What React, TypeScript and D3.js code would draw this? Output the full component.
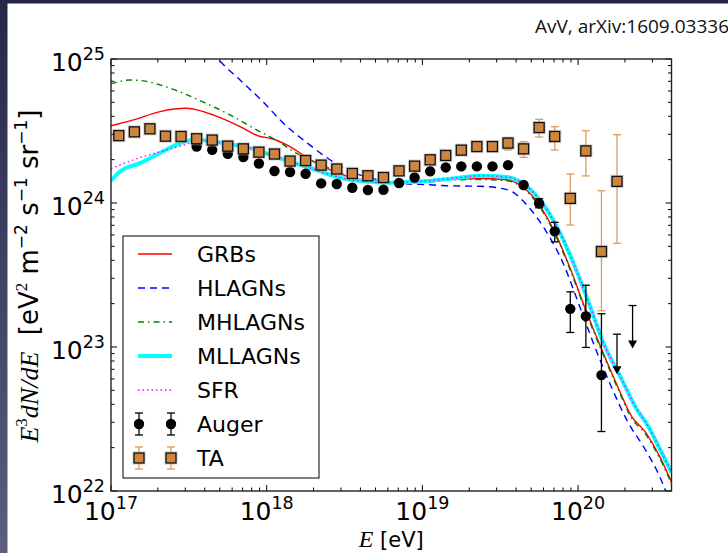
import React from "react";
import * as d3 from "d3";

// ---------- data (log10 E [eV], log10 E^3 dN/dE) ----------
const xMajorTicks = [17, 18, 19, 20];
const yMajorTicks = [22, 23, 24, 25];
const legendLabels = ["GRBs", "HLAGNs", "MHLAGNs", "MLLAGNs", "SFR", "Auger", "TA"];

const GRBs: [number, number][] = [
  [17.0, 24.536], [17.144, 24.577], [17.315, 24.635], [17.482, 24.658], [17.551, 24.647],
  [17.656, 24.612], [17.829, 24.531], [17.957, 24.462], [18.022, 24.45], [18.15, 24.392],
  [18.279, 24.3], [18.407, 24.231], [18.535, 24.18], [18.664, 24.155], [18.792, 24.146],
  [18.921, 24.148], [19.049, 24.152], [19.177, 24.166], [19.37, 24.17], [19.542, 24.161],
  [19.648, 24.109], [19.756, 23.979], [19.852, 23.794], [19.948, 23.55], [20.056, 23.238],
  [20.152, 22.983], [20.248, 22.741], [20.345, 22.516], [20.43, 22.412], [20.526, 22.235],
  [20.6, 22.062],
];

const HLAGNs: [number, number][] = [
  [17.65, 25.05], [17.688, 25.0], [17.829, 24.854], [17.977, 24.702], [18.118, 24.543],
  [18.259, 24.418], [18.388, 24.314], [18.516, 24.231], [18.645, 24.18], [18.773, 24.15],
  [18.901, 24.134], [19.03, 24.127], [19.158, 24.12], [19.37, 24.116], [19.499, 24.103],
  [19.582, 24.075], [19.679, 23.976], [19.788, 23.815], [19.903, 23.584], [20.013, 23.274],
  [20.109, 22.997], [20.212, 22.727], [20.321, 22.477], [20.43, 22.29], [20.526, 22.096],
  [20.558, 22.013], [20.59, 21.94],
];

const MHLAGNs: [number, number][] = [
  [17.0, 24.827], [17.122, 24.854], [17.208, 24.848], [17.315, 24.82], [17.465, 24.762],
  [17.572, 24.711], [17.679, 24.658], [17.786, 24.6], [17.914, 24.52], [18.086, 24.42],
  [18.171, 24.358], [18.279, 24.3], [18.426, 24.231], [18.535, 24.184], [18.664, 24.15],
  [18.792, 24.14], [18.921, 24.142], [19.049, 24.146], [19.177, 24.16], [19.37, 24.163],
  [19.542, 24.155], [19.648, 24.1], [19.756, 23.968], [19.852, 23.782], [19.948, 23.538],
  [20.056, 23.226], [20.152, 22.971], [20.248, 22.729], [20.345, 22.504], [20.43, 22.4],
  [20.526, 22.223], [20.6, 22.05],
];

const MLLAGNs: [number, number][] = [
  [17.0, 24.155], [17.058, 24.219], [17.187, 24.277], [17.315, 24.347], [17.444, 24.416],
  [17.551, 24.439], [17.656, 24.427], [17.784, 24.404], [17.893, 24.381], [18.022, 24.335],
  [18.15, 24.288], [18.279, 24.243], [18.407, 24.196], [18.535, 24.161], [18.664, 24.148],
  [18.792, 24.141], [18.921, 24.146], [19.049, 24.155], [19.178, 24.168], [19.37, 24.189],
  [19.542, 24.18], [19.648, 24.134], [19.756, 24.019], [19.863, 23.838], [19.97, 23.584],
  [20.077, 23.283], [20.162, 23.03], [20.27, 22.798], [20.377, 22.568], [20.449, 22.452],
  [20.526, 22.29], [20.6, 22.129],
];

const SFR: [number, number][] = [
  [17.0, 24.238], [17.144, 24.3], [17.358, 24.369], [17.487, 24.409], [17.551, 24.435],
  [17.656, 24.427], [17.784, 24.404], [17.893, 24.381], [18.022, 24.335], [18.15, 24.288],
  [18.279, 24.243], [18.407, 24.196], [18.535, 24.161], [18.664, 24.148], [18.792, 24.141],
  [18.921, 24.146], [19.049, 24.155], [19.178, 24.168], [19.37, 24.189], [19.542, 24.18],
  [19.648, 24.134], [19.756, 24.019], [19.863, 23.838], [19.97, 23.584], [20.077, 23.283],
  [20.162, 23.03], [20.27, 22.798], [20.377, 22.568], [20.449, 22.452], [20.526, 22.29],
  [20.6, 22.129],
];

const augerLogE = [
  17.55, 17.65, 17.75, 17.85, 17.95, 18.05, 18.15, 18.25, 18.35, 18.45, 18.55, 18.65, 18.75,
  18.85, 18.95, 19.05, 19.15, 19.25, 19.35, 19.45, 19.55, 19.65, 19.75, 19.85, 19.95, 20.05, 20.15,
];
const augerLogF = [
  24.392, 24.369, 24.342, 24.319, 24.274, 24.222, 24.215, 24.203, 24.136, 24.132, 24.106, 24.09, 24.092,
  24.139, 24.177, 24.22, 24.247, 24.254, 24.254, 24.254, 24.263, 24.125, 23.997, 23.803, 23.265, 23.214, 22.805,
];
const augerErrE = [19.65, 19.75, 19.85, 19.95, 20.05, 20.15];
const augerErrLo = [24.11, 23.967, 23.73, 23.101, 22.997, 22.413];
const augerErrHi = [24.14, 24.03, 23.866, 23.383, 23.429, 23.231];
const augerLimitE = [20.25, 20.35];
const augerLimitTop = [23.089, 23.288];
const augerLimitArrow = [22.81, 22.99];

const taLogE = [
  17.05, 17.15, 17.25, 17.35, 17.45, 17.55, 17.65, 17.75, 17.85, 17.95, 18.05, 18.15, 18.25,
  18.35, 18.45, 18.55, 18.65, 18.75, 18.85, 18.95, 19.05, 19.15, 19.25, 19.35, 19.45, 19.55,
  19.65, 19.75, 19.85, 19.95, 20.05, 20.15, 20.25,
];
const taLogF = [
  24.468, 24.494, 24.515, 24.464, 24.462, 24.446, 24.437, 24.395, 24.376, 24.353, 24.34, 24.291, 24.295,
  24.263, 24.236, 24.205, 24.189, 24.177, 24.223, 24.256, 24.3, 24.33, 24.367, 24.392, 24.392, 24.416,
  24.376, 24.524, 24.462, 24.032, 24.362, 23.663, 24.15,
];
const taErrE = [19.45, 19.55, 19.65, 19.75, 19.85, 19.95, 20.05, 20.15, 20.25];
const taErrLo = [24.372, 24.368, 24.317, 24.458, 24.368, 23.847, 24.188, 23.252, 23.72];
const taErrHi = [24.412, 24.453, 24.426, 24.581, 24.53, 24.201, 24.502, 24.085, 24.474];

// ---------- layout ----------
const W = 728;
const H = 553;
const L = 111, R = 671.5, T = 59, B = 491;
const SANS = "DejaVu Sans";
const SERIF = "Liberation Serif";
const TA_COLOR = "#cd853f";
const TA_ERR = "#dc9c60";

const x = d3.scaleLog().domain([1e17, Math.pow(10, 20.6)]).range([L, R]);
const y = d3.scaleLog().domain([1e22, 1e25]).range([B, T]);
const px = (lx: number) => x(Math.pow(10, lx));
const py = (ly: number) => y(Math.pow(10, ly));

const line = d3
  .line<[number, number]>()
  .x((d) => px(d[0]))
  .y((d) => py(d[1]))
  .curve(d3.curveMonotoneX);

function minorTicks(lo: number, hi: number, max: number) {
  const out: number[] = [];
  for (let e = lo; e < hi; e++) {
    for (let k = 2; k <= 9; k++) {
      const v = Math.log10(k) + e;
      if (v <= max + 1e-9) out.push(v);
    }
  }
  return out;
}

const xMinor = minorTicks(17, 21, 20.6);
const yMinor = minorTicks(22, 25, 25);

function AugerMarker({ cx, cy }: { cx: number; cy: number }) {
  return <circle cx={cx} cy={cy} r={5.2} fill="#000" />;
}

function TAMarker({ cx, cy }: { cx: number; cy: number }) {
  const s = 10;
  return (
    <g>
      <rect x={cx - s / 2 - 0.8} y={cy - s / 2 - 0.8} width={s + 1.6} height={s + 1.6} fill="none" stroke="#aaa" strokeOpacity={0.5} strokeWidth={1.6} />
      <rect x={cx - s / 2} y={cy - s / 2} width={s} height={s} fill={TA_COLOR} stroke="#111" strokeWidth={1.3} />
    </g>
  );
}

function ErrBar({ xx, y1, y2, color, w = 1.3 }: { xx: number; y1: number; y2: number; color: string; w?: number }) {
  const c = 4;
  return (
    <g stroke={color} strokeWidth={w}>
      <line x1={xx} x2={xx} y1={y1} y2={y2} />
      <line x1={xx - c} x2={xx + c} y1={y1} y2={y1} />
      <line x1={xx - c} x2={xx + c} y1={y2} y2={y2} />
    </g>
  );
}

function Pow({ x0, y0, exp, anchor, size }: { x0: number; y0: number; exp: number; anchor: "middle" | "end"; size: number }) {
  return (
    <text x={x0} y={y0} textAnchor={anchor} fontFamily={SANS} fontSize={size} fill="#000">
      <tspan>10</tspan>
      <tspan fontSize={size * 0.7} dy={-size * 0.45}>{String(exp)}</tspan>
    </text>
  );
}

export default function App() {
  const legendY = [254, 288, 322, 356, 390, 424, 458];
  const lx1 = 138, lx2 = 172, ltx = 197;
  return (
    <svg width={W} height={H} style={{ position: "absolute", left: 0, top: 0 }} xmlns="http://www.w3.org/2000/svg">
      <defs>
        <linearGradient id="side" x1="0" y1="0" x2="0" y2="1">
          <stop offset="0" stopColor="#26264a" />
          <stop offset="1" stopColor="#5b5e80" />
        </linearGradient>
        <clipPath id="plot">
          <rect x={L} y={T} width={R - L} height={B - T} />
        </clipPath>
      </defs>
      <rect x={0} y={0} width={W} height={H} fill="#fff" />
      <rect x={0} y={0} width={W} height={3.5} fill="#26264a" />
      <rect x={0} y={0} width={7.5} height={H} fill="url(#side)" />

      <text x={535} y={33} fontFamily="Open Sans" fontSize={19} fill="#111">AvV, arXiv:1609.03336</text>

      {/* curves */}
      <g clipPath="url(#plot)" fill="none">
        <path d={line(GRBs) || ""} stroke="#ff0000" strokeWidth={1.4} />
        <path d={line(HLAGNs) || ""} stroke="#0000ff" strokeWidth={1.4} strokeDasharray="7,5" />
        <path d={line(MHLAGNs) || ""} stroke="#008000" strokeWidth={1.4} strokeDasharray="6,4,1.5,4" />
        <path d={line(MLLAGNs) || ""} stroke="#00ffff" strokeWidth={4} />
        <path d={line(SFR) || ""} stroke="#ff00ff" strokeWidth={1.4} strokeDasharray="1.5,3" />
      </g>

      {/* Auger */}
      <g>
        {augerErrE.map((e, i) => (
          <ErrBar key={"ae" + i} xx={px(e)} y1={py(augerErrHi[i])} y2={py(augerErrLo[i])} color="#000" />
        ))}
        {augerLogE.map((e, i) => (
          <AugerMarker key={"a" + i} cx={px(e)} cy={py(augerLogF[i])} />
        ))}
        {augerLimitE.map((e, i) => {
          const xx = px(e);
          const y1 = py(augerLimitTop[i]);
          const y2 = py(augerLimitArrow[i]);
          return (
            <g key={"ul" + i}>
              <line x1={xx} x2={xx} y1={y1} y2={y2 - 6} stroke="#000" strokeWidth={1.3} />
              <line x1={xx - 4} x2={xx + 4} y1={y1} y2={y1} stroke="#000" strokeWidth={1.3} />
              <path d={`M${xx - 4.5},${y2 - 8}L${xx + 4.5},${y2 - 8}L${xx},${y2}Z`} fill="#000" />
            </g>
          );
        })}
      </g>

      {/* TA */}
      <g>
        {taErrE.map((e, i) => (
          <ErrBar key={"te" + i} xx={px(e)} y1={py(taErrHi[i])} y2={py(taErrLo[i])} color={TA_ERR} />
        ))}
        {taLogE.map((e, i) => (
          <TAMarker key={"t" + i} cx={px(e)} cy={py(taLogF[i])} />
        ))}
      </g>

      {/* frame & ticks */}
      <g stroke="#000" strokeWidth={1}>
        {xMajorTicks.map((v) => (
          <g key={"xm" + v}>
            <line x1={px(v)} x2={px(v)} y1={B} y2={B - 6} />
            <line x1={px(v)} x2={px(v)} y1={T} y2={T + 6} />
          </g>
        ))}
        {xMinor.map((v, i) => (
          <g key={"xn" + i}>
            <line x1={px(v)} x2={px(v)} y1={B} y2={B - 3.5} />
            <line x1={px(v)} x2={px(v)} y1={T} y2={T + 3.5} />
          </g>
        ))}
        {yMajorTicks.map((v) => (
          <g key={"ym" + v}>
            <line x1={L} x2={L + 6} y1={py(v)} y2={py(v)} />
            <line x1={R} x2={R - 6} y1={py(v)} y2={py(v)} />
          </g>
        ))}
        {yMinor.map((v, i) => (
          <g key={"yn" + i}>
            <line x1={L} x2={L + 3.5} y1={py(v)} y2={py(v)} />
            <line x1={R} x2={R - 3.5} y1={py(v)} y2={py(v)} />
          </g>
        ))}
      </g>
      <rect x={L} y={T} width={R - L} height={B - T} fill="none" stroke="#222" strokeWidth={1.4} />

      {xMajorTicks.map((v) => (
        <Pow key={"xl" + v} x0={px(v)} y0={B + 29} exp={v} anchor="middle" size={25} />
      ))}
      {yMajorTicks.map((v) => (
        <Pow key={"yl" + v} x0={L - 6} y0={py(v) + 12} exp={v} anchor="end" size={25} />
      ))}

      {/* axis labels */}
      <text x={(L + R) / 2} y={547} textAnchor="middle" fontSize={21} fill="#000" style={{ whiteSpace: "pre" }}>
        <tspan fontFamily={SERIF} fontStyle="italic" fontSize={24}>E</tspan>
        <tspan fontFamily={SANS}>{" [eV]"}</tspan>
      </text>
      <text transform={`translate(38,${(T + B) / 2 + 1}) rotate(-90)`} textAnchor="middle" fontSize={26} fill="#000" style={{ whiteSpace: "pre" }}>
        <tspan fontFamily={SERIF} fontStyle="italic">E</tspan>
        <tspan fontFamily={SERIF} fontSize={17} dy={-11}>3</tspan>
        <tspan fontFamily={SERIF} fontStyle="italic" dy={11}>dN/dE</tspan>
        <tspan fontFamily={SANS}>{"  [eV"}</tspan>
        <tspan fontFamily={SERIF} fontSize={17} dy={-11}>2</tspan>
        <tspan fontFamily={SANS} dy={11}>{" m"}</tspan>
        <tspan fontFamily={SANS} fontSize={17} dy={-11}>{"−2"}</tspan>
        <tspan fontFamily={SANS} dy={11}>{" s"}</tspan>
        <tspan fontFamily={SANS} fontSize={17} dy={-11}>{"−1"}</tspan>
        <tspan fontFamily={SANS} dy={11}>{" sr"}</tspan>
        <tspan fontFamily={SANS} fontSize={17} dy={-11}>{"−1"}</tspan>
        <tspan fontFamily={SANS} dy={11}>{"]"}</tspan>
      </text>

      {/* legend */}
      <rect x={123} y={236} width={196} height={242} fill="#fff" stroke="#000" strokeWidth={1} />
      <line x1={lx1} x2={lx2} y1={legendY[0]} y2={legendY[0]} stroke="#ff0000" strokeWidth={1.4} />
      <line x1={lx1} x2={lx2} y1={legendY[1]} y2={legendY[1]} stroke="#0000ff" strokeWidth={1.4} strokeDasharray="7,5" />
      <line x1={lx1} x2={lx2} y1={legendY[2]} y2={legendY[2]} stroke="#008000" strokeWidth={1.4} strokeDasharray="6,4,1.5,4" />
      <line x1={lx1} x2={lx2} y1={legendY[3]} y2={legendY[3]} stroke="#00ffff" strokeWidth={4} />
      <line x1={lx1} x2={lx2} y1={legendY[4]} y2={legendY[4]} stroke="#ff00ff" strokeWidth={1.4} strokeDasharray="1.5,3" />
      {[lx1 + 1, lx2 - 1].map((xx, i) => (
        <g key={"la" + i}>
          <ErrBar xx={xx} y1={legendY[5] - 11} y2={legendY[5] + 11} color="#000" />
          <AugerMarker cx={xx} cy={legendY[5]} />
          <ErrBar xx={xx} y1={legendY[6] - 11} y2={legendY[6] + 11} color={TA_ERR} />
          <TAMarker cx={xx} cy={legendY[6]} />
        </g>
      ))}
      {legendLabels.map((t, i) => (
        <text key={t} x={ltx} y={legendY[i] + 8} fontFamily={SANS} fontSize={22} fill="#000">{t}</text>
      ))}
    </svg>
  );
}
